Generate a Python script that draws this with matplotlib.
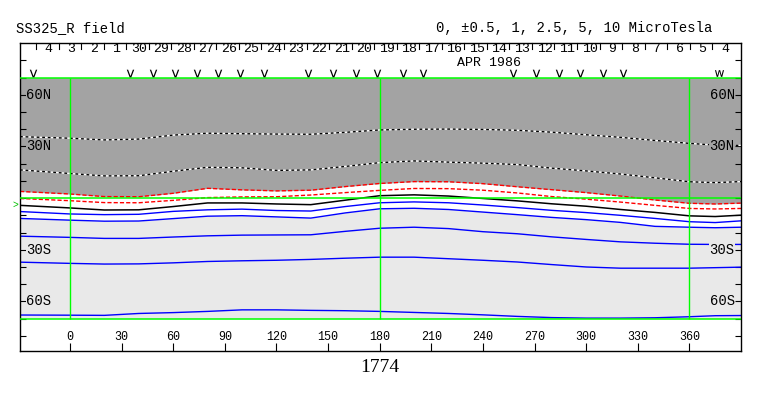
import matplotlib
matplotlib.use('Agg')
import matplotlib.pyplot as plt

W, H = 763, 396

# longitude grid the contours were read at (Carrington longitude, deg)
lon = [-29, 0, 20, 40, 60, 80, 100, 120, 140, 160, 180, 200, 220, 240, 260, 280, 300, 320, 340, 360, 375, 390]

# contour latitudes (deg) per level, microtesla
lat_m5 = [35.7, 34.8, 33.8, 34.3, 36.6, 37.7, 37.4, 37.2, 37.1, 38.2, 39.6, 40.0, 40.1, 39.9, 39.4, 38.3, 36.8, 35.3, 33.5, 31.8, 30.8, 30.6]
lat_m25 = [16.4, 14.3, 12.9, 13.0, 15.6, 17.9, 17.6, 16.1, 16.4, 18.4, 20.6, 21.6, 20.9, 20.3, 19.5, 17.4, 15.8, 14.0, 11.8, 9.5, 9.0, 9.6]
lat_m1 = [3.9, 2.4, 0.9, 0.8, 2.8, 5.7, 4.8, 4.2, 4.6, 6.7, 8.5, 9.6, 9.5, 8.4, 6.6, 4.9, 3.2, 1.2, -1.1, -3.0, -3.4, -2.9]
lat_m05 = [-0.2, -1.5, -2.6, -2.7, -1.3, 0.3, 0.7, 0.8, 1.8, 3.2, 4.5, 5.6, 5.5, 4.6, 3.0, 0.9, -0.6, -2.3, -4.2, -6.0, -6.3, -6.0]
lat_0 = [-4.2, -5.7, -6.9, -6.8, -4.9, -2.8, -2.8, -3.4, -3.8, -1.2, 1.4, 1.9, 1.2, -0.2, -1.6, -3.3, -4.7, -6.6, -8.3, -10.3, -10.7, -9.9]
lat_p05 = [-7.8, -9.2, -9.6, -9.4, -7.7, -6.8, -6.4, -7.2, -7.5, -4.9, -2.7, -2.2, -2.7, -4.0, -5.5, -7.1, -8.4, -10.0, -11.8, -13.7, -14.2, -13.2]
lat_p1 = [-11.8, -12.8, -13.4, -13.3, -11.9, -10.5, -10.2, -10.9, -11.6, -8.6, -6.2, -5.9, -6.6, -8.1, -9.6, -11.2, -12.5, -14.1, -16.4, -16.9, -17.2, -16.9]
lat_p25 = [-22.1, -22.8, -23.4, -23.4, -22.6, -21.9, -21.5, -21.4, -21.3, -19.3, -17.5, -16.9, -17.7, -19.5, -20.7, -22.5, -24.0, -25.4, -26.2, -26.8, -26.9, -26.9]
lat_p5 = [-37.2, -37.9, -38.3, -38.2, -37.6, -36.8, -36.4, -36.1, -35.6, -34.9, -34.3, -34.3, -35.2, -36.1, -37.1, -38.6, -40.0, -40.7, -40.7, -40.7, -40.4, -40.1]
lat_p10 = [-67.9, -68.0, -68.1, -67.0, -66.5, -65.8, -64.9, -64.9, -65.2, -65.4, -65.8, -66.4, -67.0, -67.8, -68.7, -69.4, -69.7, -69.7, -69.5, -68.9, -68.3, -68.2]

# dates along the top strip (May 4 down to Apr 4)
day_labels = ['4', '3', '2', '1', '30', '29', '28', '27', '26', '25', '24', '23', '22', '21', '20',
              '19', '18', '17', '16', '15', '14', '13', '12', '11', '10', '9', '8', '7', '6', '5', '4']
# observation marks (longitude)
obs_lon = [-21.3, 34.8, 48.4, 61.0, 73.6, 86.1, 98.7, 112.6, 138.4, 152.9, 166.1, 178.3,
           193.5, 205.1, 257.4, 271.0, 284.5, 296.7, 309.7, 321.3]
obs_double_lon = [377.4]

lon_ticks = [0, 30, 60, 90, 120, 150, 180, 210, 240, 270, 300, 330, 360]
lat_labels = {60: '60N', 30: '30N', -30: '30S', -60: '60S'}

DARK = '#a3a3a3'
LIGHT = '#e9e9e9'
GREEN = '#00ff00'
MONO = 'Liberation Mono'

fig = plt.figure(figsize=(W / 100, H / 100), dpi=100)
ax = fig.add_axes([20 / W, 1 - 351 / H, 721 / W, 308 / H])
ax.set_xlim(-29, 390)
ax.set_ylim(-88.8, 90.1)

# shading: light (positive), white band (-1..1), dark (negative)
ax.fill_between([lon[0], lon[-1]], -70, 70, color=LIGHT, lw=0, zorder=0)
ax.fill_between(lon, lat_p1, lat_m1, color='white', lw=0, zorder=0.5)
ax.fill_between(lon, lat_m1, 70, color=DARK, lw=0, zorder=0.5)

# negative contours
for lat in (lat_m5, lat_m25):
    ax.plot(lon, lat, color='white', lw=1.0, zorder=2)
    ax.plot(lon, lat, color='black', lw=1.0, dashes=(2, 2), zorder=2.1)
for lat in (lat_m1, lat_m05):
    ax.plot(lon, lat, color='red', lw=1.0, dashes=(3, 1.5), zorder=2)
ax.plot(lon, lat_0, color='black', lw=1.1, zorder=2)
for lat in (lat_p05, lat_p1, lat_p25, lat_p5, lat_p10):
    ax.plot(lon, lat, color='#0000ff', lw=1.0, zorder=2)

# green frame / equator / meridians
for y in (70, 0, -70):
    ax.axhline(y, color=GREEN, lw=1.1, zorder=3)
ax.vlines([0, 180, 360], -70, 70, color=GREEN, lw=1.0, zorder=3)

# latitude labels on both sides
for lat, txt in lat_labels.items():
    bg = DARK if lat > 0 else LIGHT
    ax.text(-25.3, lat, txt, ha='left', va='center', family=MONO, fontsize=10,
            bbox=dict(facecolor=bg, edgecolor='none', pad=0.5), zorder=4)
    ax.text(386.3, lat, txt, ha='right', va='center', family=MONO, fontsize=10,
            bbox=dict(facecolor=bg, edgecolor='none', pad=0.5), zorder=4)

# ticks
ax.set_yticks(list(range(-80, 90, 10)))
ax.set_yticklabels([])
ax.set_xticks(lon_ticks)
ax.set_xticklabels([])
ax.tick_params(axis='y', which='both', direction='in', left=True, right=True, length=4.5, width=0.8, color='black')
ax.tick_params(axis='x', direction='in', bottom=True, top=False, length=6, width=0.8, color='black')
for v in lon_ticks:
    ax.text(v, -80.6, str(v), ha='center', va='center', family=MONO, fontsize=8.5)
for s in ax.spines.values():
    s.set_linewidth(1.0)
    s.set_color('black')

# date strip
day0 = -19.7
deg_day = 13.1
for k, lab in enumerate(day_labels):
    x0 = day0 + k * deg_day
    ax.plot([x0, x0], [90.1, 86.5], color='black', lw=0.8, clip_on=False, zorder=5)
    ax.text(x0 + deg_day / 2 + 0.8, 86.4, lab, ha='center', va='center', family=MONO, fontsize=9.5)
ax.text(243.3, 78.6, 'APR 1986', ha='center', va='center', family=MONO, fontsize=9.5)

# observation marks drawn as thin glyph markers
ax.plot(obs_lon, [72.8] * len(obs_lon), ls='none', marker='$\\mathrm{v}$', ms=5.5, mew=0, color='black', zorder=5)
ax.plot(obs_double_lon, [72.8] * len(obs_double_lon), ls='none', marker='$\\mathrm{w}$', ms=6.5, mew=0, color='black', zorder=5)

# position marker at left edge
ax.text(-30.2, -4.0, '>', ha='right', va='center', family=MONO, fontsize=7, color='#00c000', clip_on=False)

fig.text(16 / W, 1 - 28 / H, 'SS325_R field', ha='left', va='center', family=MONO, fontsize=10)
fig.text(712 / W, 1 - 28 / H, '0, \u00b10.5, 1, 2.5, 5, 10 MicroTesla', ha='right', va='center', family=MONO, fontsize=10)
fig.text(380 / W, 1 - 367 / H, '1774', ha='center', va='center', family='Liberation Serif', fontsize=14)

fig.savefig('out.png', dpi=100)
